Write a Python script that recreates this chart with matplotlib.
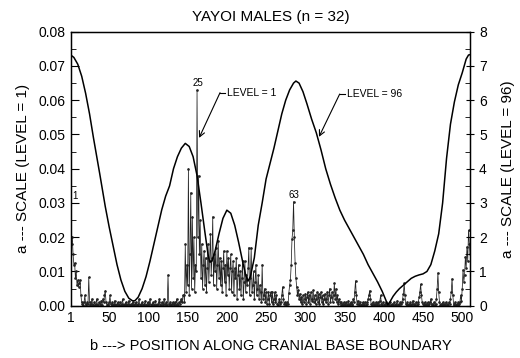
import numpy as np
import matplotlib
matplotlib.use('Agg')
import matplotlib.pyplot as plt
from matplotlib.ticker import MultipleLocator

plt.rcParams['font.family'] = ['Liberation Sans Narrow', 'Liberation Sans', 'DejaVu Sans']

# LEVEL = 1 scale values (in thousandths), positions 1..512
level1_milli = [
    20, 18, 20, 15, 12, 12.5, 8, 10, 6, 7.5, 5.5, 6.5, 7.5, 3, 1, 0.5,
    0.3, 1, 3, 0.5, 0.2, 1, 0.5, 8.3, 1, 0.3, 0.5, 2, 0.3, 0.2, 1, 0.3,
    0.5, 2, 0.3, 0.2, 1, 0.5, 0.2, 1.5, 0.3, 2, 1, 3, 4.4, 1, 0.3, 0.5,
    0.2, 1, 3, 0.5, 0.3, 1, 0.2, 0.5, 1.5, 0.3, 0.2, 0.5, 1, 0.2, 0.3, 1,
    0.3, 0.5, 2, 0.3, 0.2, 0.5, 1, 0.3, 0.2, 0.5, 1.5, 0.2, 0.3, 0.5, 0.2, 1,
    0.3, 0.2, 0.5, 1, 0.3, 0.2, 0.5, 2, 0.3, 0.2, 0.5, 1, 0.2, 0.3, 0.5, 1.5,
    0.3, 0.2, 1, 0.3, 0.5, 2, 0.3, 0.2, 0.5, 1, 0.3, 0.2, 1.5, 0.3, 0.2, 0.5,
    1, 2, 0.3, 0.2, 1, 0.5, 0.3, 2, 0.5, 0.2, 1, 0.3, 9, 0.5, 0.2, 1,
    0.3, 0.5, 1, 0.2, 0.5, 1, 0.3, 2, 0.5, 0.3, 1, 0.5, 1.5, 2, 1, 3,
    3, 1, 18, 4, 12, 6, 40, 3, 15, 33, 5, 26, 8, 20, 4, 12,
    10, 63, 20, 38, 15, 25, 8, 18, 5, 12, 16, 6, 14, 4, 11, 18,
    7, 13, 21, 9, 14, 26, 6, 15, 10, 17, 5, 12, 19, 8, 14, 6,
    13, 4, 11, 16, 7, 12, 3, 16, 9, 14, 5, 11, 15, 4, 10, 13,
    3, 11, 8, 14, 2, 9, 12, 5, 10, 3, 8, 13, 2, 7, 13, 4,
    9, 6, 11, 17, 3, 8, 17, 4, 6, 10, 2, 7, 12, 3, 5, 9,
    2, 6, 4, 1, 12, 2, 3, 5, 1, 4, 0.5, 2, 4, 0.5, 3, 4,
    1, 4, 0.5, 2, 4, 1, 3, 0.5, 0.3, 1, 2, 0.5, 1, 3, 5.5, 2,
    0.5, 1, 0.3, 0.5, 1, 0.5, 3.7, 6, 7.5, 12, 19.4, 22, 30.4, 20, 12.4, 8,
    5.5, 3, 4.6, 2, 3.5, 1, 2.5, 0.5, 3, 1, 2, 3.5, 0.5, 2.5, 4, 1,
    3, 0.5, 4, 1.5, 2, 4.5, 1, 3, 0.5, 2, 4, 1, 3.5, 0.5, 2.5, 4,
    1, 3, 0.5, 2, 3.5, 1, 2, 4, 0.5, 3, 5, 1, 2.5, 4, 1, 3,
    6.5, 2, 5, 1, 3, 0.5, 2, 1, 0.3, 1, 0.5, 0.3, 1, 0.2, 0.5, 1,
    0.3, 0.5, 1.5, 0.3, 0.5, 1, 0.3, 0.5, 2, 1, 4, 7.3, 3, 0.5, 1.5, 0.3,
    0.5, 1, 0.3, 0.2, 1, 0.5, 0.3, 1, 0.2, 0.5, 1, 2, 3, 4.4, 2, 0.5,
    0.3, 1, 0.2, 0.5, 0.3, 1, 0.2, 0.5, 1, 0.3, 1.5, 3, 0.5, 0.3, 1, 0.2,
    0.5, 0.3, 1, 0.2, 0.3, 0.5, 0.2, 1, 0.3, 0.2, 0.5, 0.3, 1, 0.2, 0.5, 0.3,
    1.5, 0.3, 0.5, 0.2, 1, 0.5, 1, 2, 3.5, 6.5, 3, 0.5, 0.3, 1, 0.2, 0.5,
    0.3, 1, 0.2, 0.5, 1.5, 0.3, 0.5, 0.2, 1, 0.3, 0.5, 1, 2.5, 4, 6.3, 3,
    1, 0.5, 0.3, 1, 0.2, 0.5, 0.3, 1, 0.2, 0.5, 1, 2, 0.3, 0.5, 0.2, 1,
    0.3, 0.5, 2, 5, 9.6, 4, 1, 0.3, 0.5, 0.2, 1, 0.3, 0.5, 0.2, 1, 0.5,
    0.3, 0.2, 1, 0.5, 2, 4, 7.9, 3, 0.5, 0.3, 1, 0.2, 0.5, 0.3, 1, 0.5,
    1, 3, 1.5, 5, 10.5, 7, 9, 14.3, 11, 17.2, 13, 22, 18, 15, 21, 20,
]

# LEVEL = 96 scale curve (right axis)
level96_pos = [1, 5, 10, 15, 20, 25, 30, 38, 45, 50, 55, 60, 65, 70, 75, 80, 83, 87,
               92, 97, 102, 107, 112, 117, 122, 127, 132, 137, 142, 147, 152, 157, 162,
               167, 172, 176, 178, 181, 185, 190, 195, 200, 205, 210, 215, 220, 224, 227,
               230, 235, 240, 245, 250, 255, 260, 265, 270, 275, 280, 285, 288, 292, 297,
               302, 308, 314, 320, 326, 332, 338, 344, 350, 356, 362, 368, 374, 380, 386,
               392, 398, 402, 405, 408, 412, 416, 420, 425, 430, 435, 440, 445, 450, 455,
               460, 465, 470, 475, 480, 485, 490, 495, 500, 505, 508, 510]
level96_val = [7.32, 7.25, 7.05, 6.7, 6.2, 5.6, 4.9, 3.85, 2.9, 2.3, 1.75, 1.2, 0.75, 0.42,
               0.22, 0.14, 0.15, 0.25, 0.5, 0.85, 1.3, 1.8, 2.3, 2.8, 3.2, 3.5, 4.0, 4.35,
               4.6, 4.74, 4.65, 4.35, 3.8, 3.0, 2.15, 1.5, 1.28, 1.3, 1.6, 2.1, 2.55, 2.79,
               2.7, 2.35, 1.85, 1.3, 0.9, 0.72, 0.85, 1.4, 2.35, 3.0, 3.7, 4.15, 4.6, 5.1,
               5.6, 6.0, 6.3, 6.5, 6.56, 6.5, 6.25, 5.9, 5.45, 5.05, 4.55, 4.0, 3.55, 3.15,
               2.79, 2.5, 2.25, 2.0, 1.75, 1.5, 1.2, 0.95, 0.7, 0.42, 0.2, 0.03, 0.12, 0.28,
               0.4, 0.5, 0.6, 0.7, 0.8, 0.86, 0.9, 0.93, 1.0, 1.2, 1.6, 2.1, 3.0, 4.3, 5.3,
               5.95, 6.45, 6.8, 7.2, 7.32, 7.33]

peak_labels = ['1', '25', '63']
peak_pos = [6.5, 162.6, 285.6]
peak_val = [0.0305, 0.0635, 0.031]

xticks = [1, 50, 100, 150, 200, 250, 300, 350, 400, 450, 500]

positions = np.arange(1, len(level1_milli) + 1)
level1 = np.array(level1_milli) / 1000.0

fig = plt.figure(figsize=(5.2, 3.58), dpi=100)
ax = fig.add_axes([0.136, 0.146, 0.768, 0.7654])
ax2 = ax.twinx()

ax.plot(positions, level1, color='#222222', lw=0.55, marker='.', ms=1.8, clip_on=True)
ax2.plot(level96_pos, level96_val, color='black', lw=1.1)

ax.set_xlim(1, 510)
ax.set_ylim(0, 0.08)
ax2.set_ylim(0, 8)

ax.set_xticks(xticks)
ax.tick_params(axis='x', length=0, labelsize=10, pad=4)
ax.yaxis.set_major_locator(MultipleLocator(0.01))
ax.yaxis.set_minor_locator(MultipleLocator(0.005))
ax.set_yticklabels([f'{v:.2f}' for v in ax.get_yticks()])
ax.tick_params(axis='y', which='major', direction='in', length=6, labelsize=10)
ax.tick_params(axis='y', which='minor', direction='in', length=3.5)
ax2.yaxis.set_major_locator(MultipleLocator(1))
ax2.yaxis.set_minor_locator(MultipleLocator(0.5))
ax2.tick_params(axis='y', which='major', direction='inout', length=6, labelsize=10)
ax2.tick_params(axis='y', which='minor', direction='in', length=3.5)

for lab, px, pv in zip(peak_labels, peak_pos, peak_val):
    ax.text(px, pv, lab, ha='center', va='bottom', fontsize=7)

# leader labels
ax.annotate('', xy=(164.6, 0.049), xytext=(191.3, 0.0622),
            arrowprops=dict(arrowstyle='->', lw=0.8, color='black', shrinkA=0, shrinkB=0))
ax.plot([191.3, 198], [0.0622, 0.0622], color='black', lw=0.8)
ax.text(200, 0.0622, 'LEVEL = 1', fontsize=7.5, va='center', ha='left')

ax.annotate('', xy=(317.4, 0.0493), xytext=(343.8, 0.0618),
            arrowprops=dict(arrowstyle='->', lw=0.8, color='black', shrinkA=0, shrinkB=0))
ax.plot([343.8, 351], [0.0618, 0.0618], color='black', lw=0.8)
ax.text(353, 0.0618, 'LEVEL = 96', fontsize=7.5, va='center', ha='left')

ax.set_title('YAYOI MALES (n = 32)', fontsize=11, pad=8)
ax.set_xlabel('b ---> POSITION ALONG CRANIAL BASE BOUNDARY', fontsize=10.5, labelpad=10)
ax.set_ylabel('a --- SCALE (LEVEL = 1)', fontsize=11, labelpad=6)
ax2.set_ylabel('a --- SCALE (LEVEL = 96)', fontsize=11, labelpad=10, rotation=90)

for sp in ax.spines.values():
    sp.set_linewidth(1.0)

fig.savefig('out.png', dpi=100)
